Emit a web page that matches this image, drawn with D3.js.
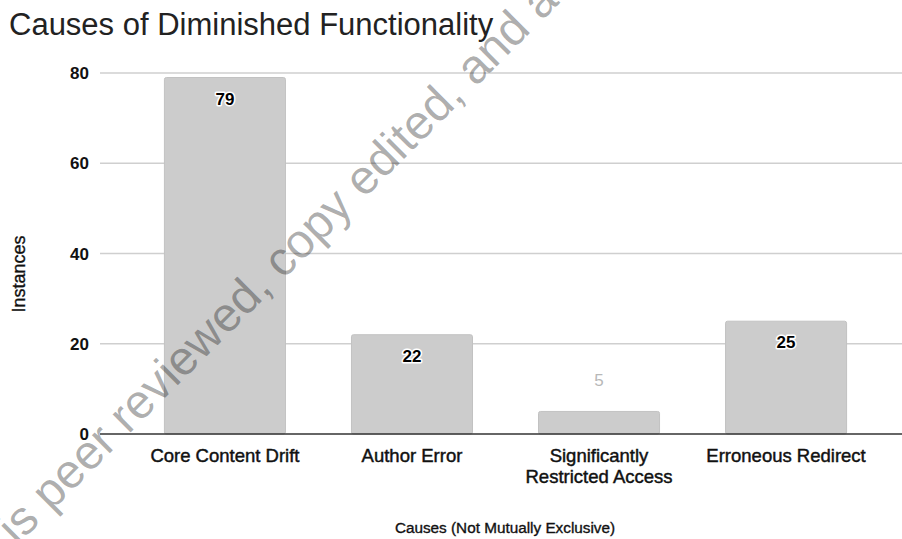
<!DOCTYPE html>
<html>
<head>
<meta charset="utf-8">
<script src="https://cdn.jsdelivr.net/npm/d3@7"></script>
<style>
  html, body { margin: 0; padding: 0; background: #fff; }
  svg { display: block; }
  text { font-family: "Liberation Sans", Arial, sans-serif; }
</style>
</head>
<body>
<svg id="chart" width="902" height="539"></svg>
<script>
// Chart data
const categories = [
  ["Core Content Drift"],
  ["Author Error"],
  ["Significantly", "Restricted Access"],
  ["Erroneous Redirect"]
];
const instances = [79, 22, 5, 25];
const yTicks = [0, 20, 40, 60, 80];

const title = "Causes of Diminished Functionality";
const xTitle = "Causes (Not Mutually Exclusive)";
const yTitle = "Instances";
const watermark = "is peer reviewed, copy edited, and a";

const W = 902, H = 539;
const svg = d3.select("#chart");

const keys = categories.map(c => c.join(" "));
const x = d3.scaleBand()
  .domain(keys)
  .range([131.5, 879.5])
  .paddingInner(0.353)
  .paddingOuter(0.176);

const y = d3.scaleLinear().domain([0, 80]).range([434, 73]);

// Title
svg.append("text")
  .attr("x", 9).attr("y", 35)
  .attr("font-size", 31)
  .attr("fill", "#222")
  .text(title);

// Gridlines
svg.append("g")
  .selectAll("line")
  .data(yTicks.filter(d => d !== 0))
  .join("line")
  .attr("x1", 100).attr("x2", W)
  .attr("y1", d => y(d)).attr("y2", d => y(d))
  .attr("stroke", "#cfcfcf")
  .attr("stroke-width", 1.3);

// Y tick labels
svg.append("g")
  .selectAll("text")
  .data(yTicks)
  .join("text")
  .attr("x", 89)
  .attr("y", d => y(d))
  .attr("dy", "0.36em")
  .attr("text-anchor", "end")
  .attr("font-size", 17)
  .attr("font-weight", "bold")
  .attr("fill", "#111")
  .text(d => d);

// Bars
svg.append("g")
  .selectAll("rect")
  .data(instances)
  .join("rect")
  .attr("x", (d, i) => x(keys[i]))
  .attr("y", d => y(d))
  .attr("width", x.bandwidth())
  .attr("height", d => y(0) - y(d))
  .attr("rx", 2)
  .attr("fill", "#cccccc")
  .attr("stroke", "#c2c2c2")
  .attr("stroke-width", 1);

// Baseline
svg.append("line")
  .attr("x1", 100).attr("x2", W)
  .attr("y1", y(0)).attr("y2", y(0))
  .attr("stroke", "#333")
  .attr("stroke-width", 1.6);

// Value labels: inside the bar when it is tall enough, above it otherwise
const labels = svg.append("g")
  .selectAll("text")
  .data(instances)
  .join("text")
  .attr("x", (d, i) => x(keys[i]) + x.bandwidth() / 2)
  .attr("text-anchor", "middle")
  .attr("font-size", 17);

labels.each(function(d) {
  const inside = y(0) - y(d) > 40;
  const t = d3.select(this);
  if (inside) {
    t.attr("y", y(d) + 27)
      .attr("font-weight", "bold")
      .attr("fill", "#000")
      .attr("stroke", "#fff")
      .attr("stroke-width", 3)
      .attr("paint-order", "stroke")
      .attr("stroke-linejoin", "round");
  } else {
    t.attr("y", y(d) - 25)
      .attr("fill", "#b8b8b8");
  }
  t.text(d);
});

// Category labels
const cat = svg.append("g")
  .selectAll("text")
  .data(categories)
  .join("text")
  .attr("x", (d, i) => x(keys[i]) + x.bandwidth() / 2)
  .attr("y", 462)
  .attr("text-anchor", "middle")
  .attr("font-size", 18.5)
  .attr("fill", "#111")
  .attr("stroke", "#111")
  .attr("stroke-width", 0.45);
cat.selectAll("tspan")
  .data(d => d)
  .join("tspan")
  .attr("x", function() { return d3.select(this.parentNode).attr("x"); })
  .attr("dy", (d, i) => i === 0 ? 0 : 21)
  .text(d => d);

// Axis titles
svg.append("text")
  .attr("x", 505).attr("y", 533)
  .attr("text-anchor", "middle")
  .attr("font-size", 15.3)
  .attr("fill", "#111")
  .attr("stroke", "#111")
  .attr("stroke-width", 0.35)
  .text(xTitle);

svg.append("text")
  .attr("transform", "translate(25,274) rotate(-90)")
  .attr("text-anchor", "middle")
  .attr("font-size", 18)
  .attr("fill", "#111")
  .attr("stroke", "#111")
  .attr("stroke-width", 0.35)
  .text(yTitle);

// Diagonal overlay text
svg.append("text")
  .attr("transform", "translate(17,546) rotate(-45)")
  .attr("font-size", 48)
  .attr("fill", "#000")
  .attr("fill-opacity", 0.32)
  .text(watermark);
</script>
</body>
</html>
